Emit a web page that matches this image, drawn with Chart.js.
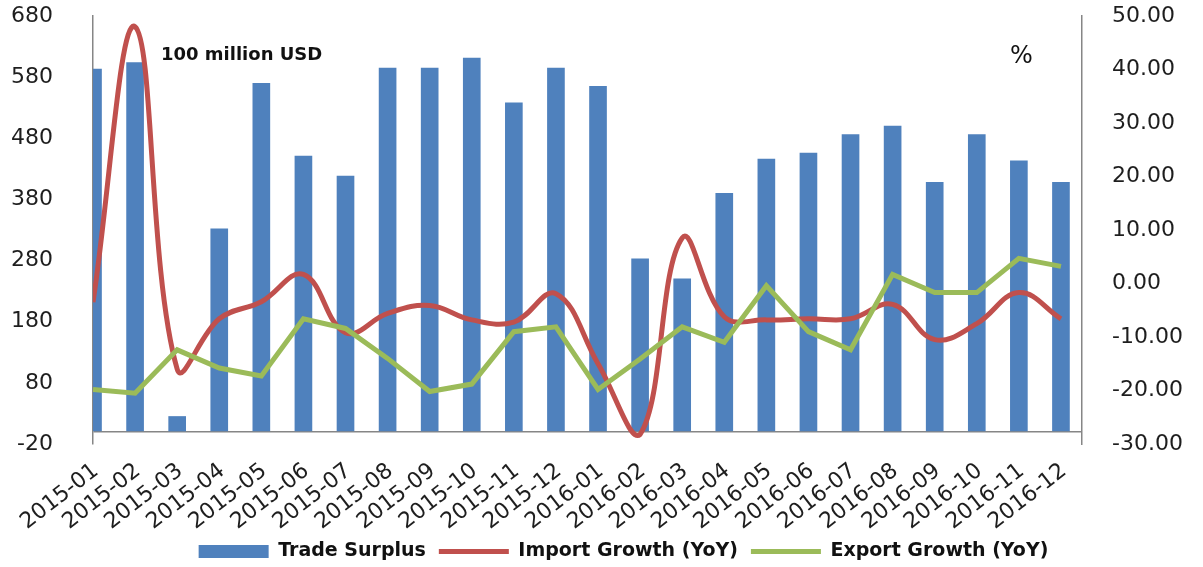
<!DOCTYPE html>
<html>
<head>
<meta charset="utf-8">
<script src="https://cdn.jsdelivr.net/npm/chart.js@4"></script>
<style>
  body { margin: 0; background: #fff; }
  #wrap { width: 1203px; height: 567px; }
</style>
</head>
<body>
<div id="wrap"><canvas id="tradeChart"></canvas></div>
<script>
// Monthly data, 2015-01 .. 2016-12
const months = ['2015-01', '2015-02', '2015-03', '2015-04', '2015-05', '2015-06', '2015-07', '2015-08',
    '2015-09', '2015-10', '2015-11', '2015-12', '2016-01', '2016-02', '2016-03', '2016-04',
    '2016-05', '2016-06', '2016-07', '2016-08', '2016-09', '2016-10', '2016-11', '2016-12'];
const tradeSurplus = [593, 604, 25, 332, 570, 451, 418, 595, 595, 611, 538, 595,
    565, 283, 250, 390, 446, 456, 486, 500, 408, 486, 443, 408];
const importGrowth = [-3.5, 48, -16, -6.6, -3.4, 1.7, -9.2, -5.6, -4.1, -6.8, -7.2, -1.9,
    -15, -28.2, 8.5, -6.2, -6.8, -6.6, -6.6, -3.9, -10.5, -7.5, -1.7, -6.6];
const exportGrowth = [-19.8, -20.5, -12.4, -15.8, -17.3, -6.6, -8.4, -14, -20.2, -18.8, -9.0, -8.1,
    -19.8, -14.1, -8.1, -11.0, -0.4, -9.0, -12.4, 1.7, -1.7, -1.7, 4.7, 3.2];
const leftTicks = [-20, 80, 180, 280, 380, 480, 580, 680];

const toPoints = arr => arr.map((v, i) => ({ x: i, y: v }));
const axisGray = '#868686';
const textDark = '#1e1e1e';

// unit labels drawn on the plot
const unitLabels = {
    id: 'unitLabels',
    afterDraw(chart) {
        const ctx = chart.ctx;
        ctx.save();
        ctx.fillStyle = '#111';
        ctx.textBaseline = 'alphabetic';
        ctx.font = "bold 18px 'DejaVu Sans'";
        ctx.fillText('100 million USD', 161, 60);
        ctx.font = "24px 'DejaVu Sans'";
        ctx.fillText('%', 1010, 63);
        ctx.restore();
    }
};

new Chart(document.getElementById('tradeChart'), {
    data: {
        datasets: [
            {
                type: 'bar',
                label: 'Trade Surplus',
                data: toPoints(tradeSurplus),
                yAxisID: 'y',
                backgroundColor: '#4F81BD',
                borderWidth: 0,
                barThickness: 17,
                pointStyle: 'rect',
                clip: 0,
                order: 3
            },
            {
                type: 'line',
                label: 'Import Growth (YoY)',
                data: toPoints(importGrowth),
                yAxisID: 'y1',
                borderColor: '#C0504D',
                backgroundColor: '#C0504D',
                borderWidth: 5,
                tension: 0.4,
                pointRadius: 0,
                pointStyle: 'line',
                clip: 0,
                order: 2
            },
            {
                type: 'line',
                label: 'Export Growth (YoY)',
                data: toPoints(exportGrowth),
                yAxisID: 'y1',
                borderColor: '#9BBB59',
                backgroundColor: '#9BBB59',
                borderWidth: 5,
                tension: 0,
                pointRadius: 0,
                pointStyle: 'line',
                clip: 0,
                order: 1
            }
        ]
    },
    options: {
        responsive: true, maintainAspectRatio: false,
        animation: false,
        // negative right padding shifts the legend centre to match the original
        layout: { padding: { top: 16, left: 0, right: -44, bottom: -4 } },
        plugins: {
            legend: {
                position: 'bottom',
                labels: {
                    usePointStyle: true,
                    pointStyleWidth: 70,
                    boxHeight: 13,
                    padding: 13,
                    color: '#111',
                    font: { family: "'DejaVu Sans'", size: 19, weight: 'bold' },
                    sort: (a, b) => a.datasetIndex - b.datasetIndex
                }
            },
            tooltip: { enabled: false }
        },
        scales: {
            x: {
                type: 'linear',
                position: 'bottom',
                offset: false,
                min: 0, max: 23.5,
                grid: { display: false, drawTicks: false },
                border: { display: false },
                afterBuildTicks: s => { s.ticks = months.map((m, i) => ({ value: i })); },
                afterFit: s => { s.height = 85; s.paddingLeft = 0; s.paddingRight = 0; },
                ticks: {
                    autoSkip: false,
                    minRotation: 38, maxRotation: 38,
                    padding: 14,
                    labelOffset: 3,
                    color: textDark,
                    font: { family: "'DejaVu Sans'", size: 22 },
                    callback: v => months[v] ?? ''
                }
            },
            y: {
                position: 'left',
                min: -20, max: 680,
                // extra tick at 0 only carries the category baseline
                afterBuildTicks: s => { s.ticks = [...leftTicks, 0].map(v => ({ value: v })); },
                afterFit: s => { s.width = 93; s.paddingTop = 0; s.paddingBottom = 0; },
                grid: {
                    drawTicks: false,
                    color: c => (c.tick && c.tick.value === 0) ? axisGray : 'rgba(0,0,0,0)',
                    lineWidth: 1.5
                },
                border: { color: axisGray, width: 1.5 },
                ticks: {
                    padding: 40,
                    color: textDark,
                    font: { family: "'DejaVu Sans'", size: 22 },
                    callback: v => v === 0 ? '' : v
                }
            },
            y1: {
                position: 'right',
                min: -30, max: 50,
                grid: { display: false, drawTicks: false },
                border: { color: axisGray, width: 1.5 },
                afterFit: s => { s.width = 165; s.paddingTop = 0; s.paddingBottom = 0; },
                ticks: {
                    stepSize: 10,
                    padding: 30,
                    color: textDark,
                    font: { family: "'DejaVu Sans'", size: 22 },
                    callback: v => v.toFixed(2)
                }
            }
        }
    },
    plugins: [unitLabels]
});
</script>
</body>
</html>
